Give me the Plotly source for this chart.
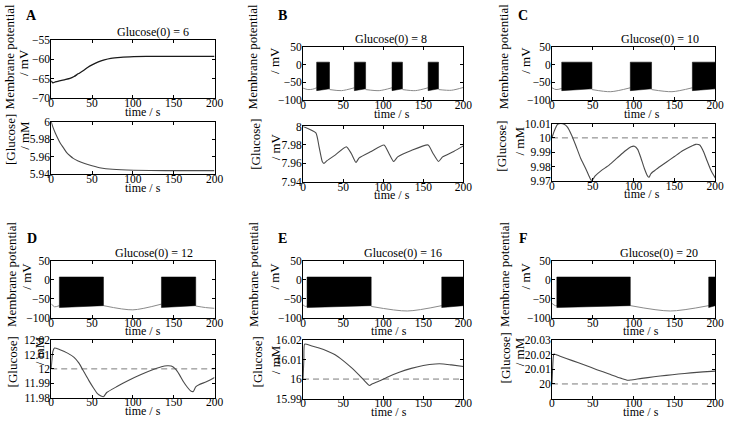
import plotly.graph_objects as go

W, H = 738, 422
FONT = "Liberation Serif"
TIME_TICKS = [0, 50, 100, 150, 200]

# ---------------- data ----------------
PANEL_LETTERS = ["A", "B", "C", "D", "E", "F"]
G0_VALUES = [6, 8, 10, 12, 16, 20]

# Panel A: membrane potential (no bursting)
A_V_T = [0, 2, 5, 10, 17, 23, 28, 33, 40, 45, 50, 57, 65, 73, 85, 101, 130, 200]
A_V = [-65.5, -66.0, -65.8, -65.5, -65.2, -64.9, -64.4, -63.7, -62.8, -62.0, -61.4,
       -60.7, -60.1, -59.7, -59.45, -59.3, -59.2, -59.2]

# burst windows (start, end) in s
B_BURSTS = [(17, 33), (64, 78), (111, 124), (156, 169)]
C_BURSTS = [(12, 49), (96, 122), (172, 200)]
D_BURSTS = [(10, 64), (135, 177)]
E_BURSTS = [(5, 85), (173, 200)]
F_BURSTS = [(6, 96), (192, 200)]
BURST_TOP = 7
BURST_BOTTOM_START = -73
BURST_BOTTOM_END = -68

# silent-phase membrane potential (None separates segments)
B_SIL_T = [0, 6, 12, 17, None, 33, 48, 64, None, 78, 95, 111, None, 124, 140, 156, None, 169, 185, 200]
B_SIL_V = [-66, -70, -69, -65, None, -70, -73, -65, None, -70, -73, -65, None, -70, -73, -65, None, -70, -72, -64]
C_SIL_T = [0, 5, 12, None, 49, 72, 96, None, 122, 147, 172]
C_SIL_V = [-65, -70, -67, None, -70, -76, -65, None, -70, -76, -65]
D_SIL_T = [0, 4, 10, None, 64, 100, 135, None, 177, 189, 200]
D_SIL_V = [-63, -71, -68, None, -68, -79, -64, None, -69, -73, -75]
E_SIL_T = [0, 3, 5, None, 85, 130, 173]
E_SIL_V = [-66, -70, -69, None, -70, -82, -68]
F_SIL_T = [0, 4, 6, None, 96, 145, 192]
F_SIL_V = [-62, -68, -68, None, -68, -82, -68]

# glucose traces
A_G_T = [0, 2, 5, 8, 11, 15, 19, 23, 27, 33, 41, 50, 61, 75, 101, 140, 200]
A_G = [6.0, 5.994, 5.987, 5.981, 5.9755, 5.97, 5.9645, 5.961, 5.958, 5.955, 5.952,
       5.9495, 5.947, 5.9455, 5.9444, 5.944, 5.944]
B_G_T = [0, 16, 20, 24, 26, 30, 40, 54, 60, 66, 70, 85, 101, 107, 113, 118, 135, 156, 162, 169, 174, 188, 200]
B_G = [8.0, 7.993, 7.978, 7.962, 7.960, 7.963, 7.969, 7.978, 7.971, 7.961, 7.966, 7.973,
       7.980, 7.971, 7.962, 7.967, 7.974, 7.980, 7.971, 7.962, 7.967, 7.973, 7.979]
C_G_T = [0, 3, 7, 11, 15, 19, 24, 29, 35, 41, 45, 48, 50, 53, 60, 70, 80, 90, 97, 101, 105,
         109, 113, 117, 119, 121, 123, 130, 140, 150, 160, 170, 176, 181, 186, 190, 195, 200]
C_G = [10.0, 10.005, 10.0095, 10.01, 10.0095, 10.0075, 10.002, 9.995, 9.986, 9.979, 9.974,
       9.9705, 9.971, 9.9735, 9.977, 9.981, 9.986, 9.991, 9.9938, 9.9942, 9.992, 9.986, 9.979,
       9.9735, 9.9725, 9.9748, 9.976, 9.979, 9.983, 9.987, 9.991, 9.994, 9.9955, 9.995, 9.990,
       9.984, 9.977, 9.972]
D_G_T = [0, 2, 4, 10, 20, 28, 34, 40, 46, 52, 57, 61, 64, 68, 80, 95, 110, 125, 135, 142,
         147, 152, 157, 162, 167, 171, 174, 177, 181, 190, 200]
D_G = [12.0, 12.012, 12.0145, 12.0135, 12.011, 12.008, 12.004, 11.998, 11.992, 11.9865,
       11.9825, 11.981, 11.9805, 11.9835, 11.9875, 11.992, 11.996, 11.9995, 12.0015, 12.0022,
       12.002, 12.0, 11.996, 11.991, 11.987, 11.9845, 11.9842, 11.9875, 11.989, 11.991, 11.994]
E_G_T = [0, 1, 2, 10, 20, 30, 40, 50, 60, 70, 77, 83, 86, 95, 105, 120, 135, 150, 165, 175, 185, 200]
E_G = [16.0, 16.01, 16.018, 16.0172, 16.016, 16.0145, 16.0125, 16.0095, 16.006, 16.002,
       15.999, 15.9967, 15.9975, 15.999, 16.001, 16.0035, 16.0055, 16.007, 16.0078, 16.0078,
       16.0073, 16.0065]
F_G_T = [0, 1, 2.5, 10, 25, 40, 55, 70, 85, 93, 97, 110, 125, 140, 155, 170, 185, 200]
F_G = [20.0, 20.012, 20.0205, 20.019, 20.016, 20.013, 20.0098, 20.0068, 20.0038, 20.0025,
       20.0027, 20.0038, 20.0049, 20.0059, 20.0068, 20.0076, 20.0083, 20.0088]

# axis ticks
V_TICKS_A = [-70, -65, -60, -55]
V_TICKS = [-100, -50, 0, 50]
G_TICKS = [
    [5.94, 5.96, 5.98, 6],
    [7.94, 7.96, 7.98, 8],
    [9.97, 9.98, 9.99, 10, 10.01],
    [11.98, 11.99, 12, 12.01, 12.02],
    [15.99, 16, 16.01, 16.02],
    [20, 20.01, 20.02, 20.03],
]
G_RANGES = [[5.94, 6], [7.94, 8], [9.97, 10.01], [11.98, 12.02], [15.99, 16.02], [19.99, 20.03]]
G_UNITS = ["mM", "mV", "mM", "mM", "mM", "mM"]

# ---------------- layout geometry (pixels) ----------------
COLS = [(49, 215), (305, 468), (558, 724)]
ROWS = [  # (top_top, top_bottom, bot_top, bot_bottom) per panel
    (35, 95, 119, 173),
    (42, 97, 124, 181),
    (42, 97, 121, 180),
    (262, 321, 344, 403),
    (262, 321, 344, 404),
    (262, 321, 344, 404),
]
LETTER_POS = [(29, 10), (284, 10), (529, 10), (29, 239), (284, 239), (529, 239)]
TITLE_X = [152, 394, 668, 154, 407, 667]
XTITLE_X = [142, 395, 650, 142, 392, 649]
YT_X = [(7, 21), (254, 276), (509, 531), (8, 23), (254, 276), (509, 531)]
YB_X = [(7, 22), (257, 277), (507, 525), (10, 38), (259, 277), (511, 525)]
YT_Y = [(52, 58), (52, 56), (52, 56), (276, 278), (276, 278), (276, 278)]
YB_Y = [(137, 133), (142, 145), (144, 139), (366, 355), (366, 364), (362, 356)]


def px(x):
    return x / W


def py(y):
    return 1 - y / H


def fmt(v):
    return f"{v:g}".replace("-", "\u2212")


fig = go.Figure()

SIL_T = [None, B_SIL_T, C_SIL_T, D_SIL_T, E_SIL_T, F_SIL_T]
SIL_V = [None, B_SIL_V, C_SIL_V, D_SIL_V, E_SIL_V, F_SIL_V]
BURSTS = [None, B_BURSTS, C_BURSTS, D_BURSTS, E_BURSTS, F_BURSTS]
G_T = [A_G_T, B_G_T, C_G_T, D_G_T, E_G_T, F_G_T]
G_V = [A_G, B_G, C_G, D_G, E_G, F_G]

annotations = []
layout_axes = {}

for i in range(6):
    col = COLS[i % 3]
    r = ROWS[i]
    ntop = 2 * i + 1
    nbot = 2 * i + 2
    xs_top = "x" if ntop == 1 else f"x{ntop}"
    ys_top = "y" if ntop == 1 else f"y{ntop}"
    xs_bot = f"x{nbot}"
    ys_bot = f"y{nbot}"

    # --- top: membrane potential
    if i == 0:
        fig.add_trace(go.Scatter(x=A_V_T, y=A_V, mode="lines", xaxis=xs_top, yaxis=ys_top,
                                 line=dict(color="#1a1a1a", width=1.3, shape="spline", smoothing=0.6),
                                 hoverinfo="skip"))
    else:
        fig.add_trace(go.Scatter(x=SIL_T[i], y=SIL_V[i], mode="lines", xaxis=xs_top, yaxis=ys_top,
                                 line=dict(color="#8a8a8a", width=1, shape="spline", smoothing=0.8),
                                 connectgaps=False, hoverinfo="skip"))
        for (s, e) in BURSTS[i]:
            fig.add_trace(go.Scatter(
                x=[s, s, e, e, s],
                y=[BURST_BOTTOM_START, BURST_TOP, BURST_TOP, BURST_BOTTOM_END, BURST_BOTTOM_START],
                mode="lines", fill="toself", fillcolor="#000000",
                line=dict(color="#000000", width=0.5),
                xaxis=xs_top, yaxis=ys_top, hoverinfo="skip"))

    # --- bottom: glucose
    if i >= 2:
        fig.add_trace(go.Scatter(x=[TIME_TICKS[0], TIME_TICKS[-1]], y=[G0_VALUES[i], G0_VALUES[i]],
                                 mode="lines", xaxis=xs_bot, yaxis=ys_bot,
                                 line=dict(color="#7a7a7a", width=1, dash="6px,4px"),
                                 hoverinfo="skip"))
    fig.add_trace(go.Scatter(x=G_T[i], y=G_V[i], mode="lines", xaxis=xs_bot, yaxis=ys_bot,
                             line=dict(color="#4a4a4a", width=1.1, shape="spline", smoothing=0.5),
                             hoverinfo="skip"))

    common_x = dict(range=[0, 200], tickmode="array", tickvals=TIME_TICKS,
                    ticktext=[fmt(v) for v in TIME_TICKS],
                    ticks="inside", ticklen=3, tickcolor="black", mirror="ticks",
                    showline=True, linecolor="black", linewidth=1, showgrid=False,
                    zeroline=False, tickfont=dict(family=FONT, size=11.5, color="black"),
                    ticklabelstandoff=-6, fixedrange=True)
    common_y = dict(ticks="inside", ticklen=3, tickcolor="black", mirror="ticks",
                    showline=True, linecolor="black", linewidth=1, showgrid=False,
                    zeroline=False, tickfont=dict(family=FONT, size=11.5, color="black"),
                    ticklabelstandoff=-2, tickmode="array", fixedrange=True)

    xdom = [px(col[0]), px(col[1])]
    vt = V_TICKS_A if i == 0 else V_TICKS
    layout_axes["xaxis" if ntop == 1 else f"xaxis{ntop}"] = dict(
        common_x, domain=xdom, anchor=ys_top)
    layout_axes["yaxis" if ntop == 1 else f"yaxis{ntop}"] = dict(
        common_y, domain=[py(r[1]), py(r[0])], anchor=xs_top,
        range=[vt[0], vt[-1]], tickvals=vt, ticktext=[fmt(v) for v in vt])
    layout_axes[f"xaxis{nbot}"] = dict(common_x, domain=xdom, anchor=ys_bot)
    layout_axes[f"yaxis{nbot}"] = dict(
        common_y, domain=[py(r[3]), py(r[2])], anchor=xs_bot,
        range=G_RANGES[i], tickvals=G_TICKS[i], ticktext=[fmt(v) for v in G_TICKS[i]])

    # annotations
    lx, ly = LETTER_POS[i]
    annotations.append(dict(text=f"<b>{PANEL_LETTERS[i]}</b>", x=px(lx), y=py(ly), xref="paper",
                            yref="paper", showarrow=False, xanchor="center", yanchor="middle",
                            font=dict(family=FONT, size=14, color="black")))
    annotations.append(dict(text=f"Glucose(0) = {G0_VALUES[i]}", x=px(TITLE_X[i]), y=py(r[0]),
                            xref="paper", yref="paper", showarrow=False, xanchor="center",
                            yanchor="bottom", yshift=-1,
                            font=dict(family=FONT, size=12, color="black")))
    for yb in (r[1] + 14, r[3] + 14):
        annotations.append(dict(text="time / s", x=px(XTITLE_X[i]), y=py(yb), xref="paper",
                                yref="paper", showarrow=False, xanchor="center", yanchor="middle",
                                font=dict(family=FONT, size=12, color="black")))
    for txt, xx, yy in (("Membrane potential", YT_X[i][0], YT_Y[i][0]),
                        ("/ mV", YT_X[i][1], YT_Y[i][1]),
                        ("[Glucose]", YB_X[i][0], YB_Y[i][0]),
                        (f"/ {G_UNITS[i]}", YB_X[i][1], YB_Y[i][1])):
        annotations.append(dict(text=txt, x=px(xx), y=py(yy), xref="paper", yref="paper",
                                showarrow=False, textangle=-90, xanchor="center",
                                yanchor="middle", font=dict(family=FONT, size=13, color="black")))

fig.update_layout(
    width=W, height=H, autosize=False,
    margin=dict(l=0, r=0, t=0, b=0),
    paper_bgcolor="white", plot_bgcolor="white",
    showlegend=False,
    annotations=annotations,
    **layout_axes,
)

fig.write_html("out.html", config={"displayModeBar": False, "staticPlot": True},
               post_script="document.body.style.margin='0';")
